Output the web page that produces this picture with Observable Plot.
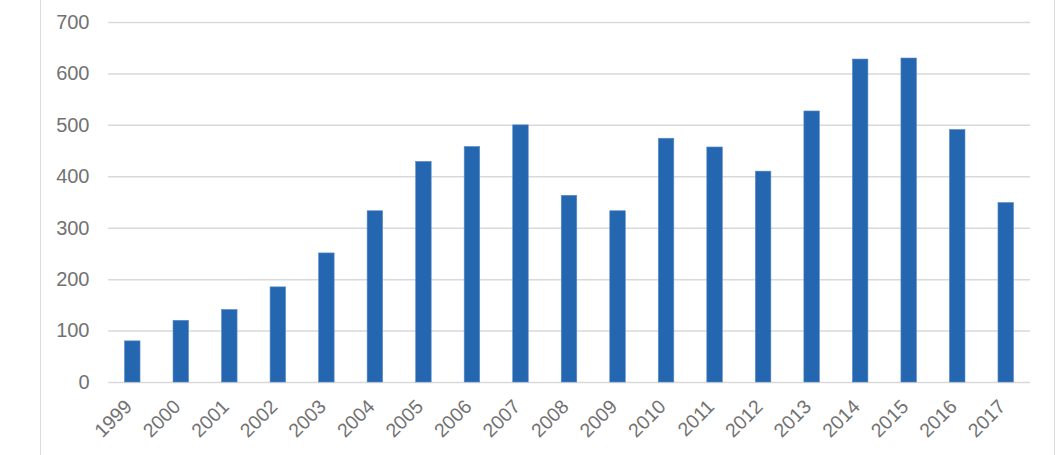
<!DOCTYPE html>
<html>
<head>
<meta charset="utf-8">
<script src="https://cdn.jsdelivr.net/npm/d3@7"></script>
<script src="https://cdn.jsdelivr.net/npm/@observablehq/plot@0.6"></script>
<style>
  html, body { margin: 0; padding: 0; background: #fff; }
  #wrap { position: relative; width: 1061px; height: 455px; overflow: hidden; }
  #frame { position: absolute; left: 40px; top: 0; width: 1015px; height: 455px;
           border-left: 1.5px solid #d9d9d9; border-right: 1.5px solid #d9d9d9; box-sizing: border-box; }
  #chart { position: absolute; left: 0; top: 0; }
</style>
</head>
<body>
<div id="wrap"><div id="frame"></div><div id="chart"></div></div>
<script>
const years = ["1999","2000","2001","2002","2003","2004","2005","2006","2007","2008","2009","2010","2011","2012","2013","2014","2015","2016","2017"];
const values = [80, 120, 141, 185, 251, 333, 429, 458, 500, 363, 333, 474, 457, 410, 527, 628, 630, 491, 349];
const yTicks = [0, 100, 200, 300, 400, 500, 600, 700];

const data = years.map((y, i) => ({year: y, value: values[i]}));

const chart = Plot.plot({
  width: 1061,
  height: 455,
  marginLeft: 108,
  marginRight: 31,
  marginTop: 22,
  marginBottom: 73,
  style: {fontFamily: "'Liberation Sans', Arial, sans-serif", fontSize: "18px", color: "#727272", background: "transparent"},
  x: {domain: years, paddingInner: 0.68, paddingOuter: 0.34, round: false, label: null},
  y: {domain: [0, 700], ticks: yTicks, label: null},
  marks: [
    Plot.gridY(yTicks, {stroke: "#d9d9d9", strokeOpacity: 1, strokeWidth: 1.5}),
    Plot.barY(data, {x: "year", y: "value", fill: "#2566b0", stroke: "#5b8cc9", strokeWidth: 0.6}),
    Plot.axisY(yTicks, {tickSize: 0, tickPadding: 19, fontSize: 20, fill: "#727272", label: null}),
    Plot.axisX({tickSize: 0, tickPadding: 10, tickRotate: -45, fontSize: 19.5, fill: "#727272", label: null, dx: -4, dy: 11})
  ]
});
document.getElementById("chart").appendChild(chart);
</script>
</body>
</html>
